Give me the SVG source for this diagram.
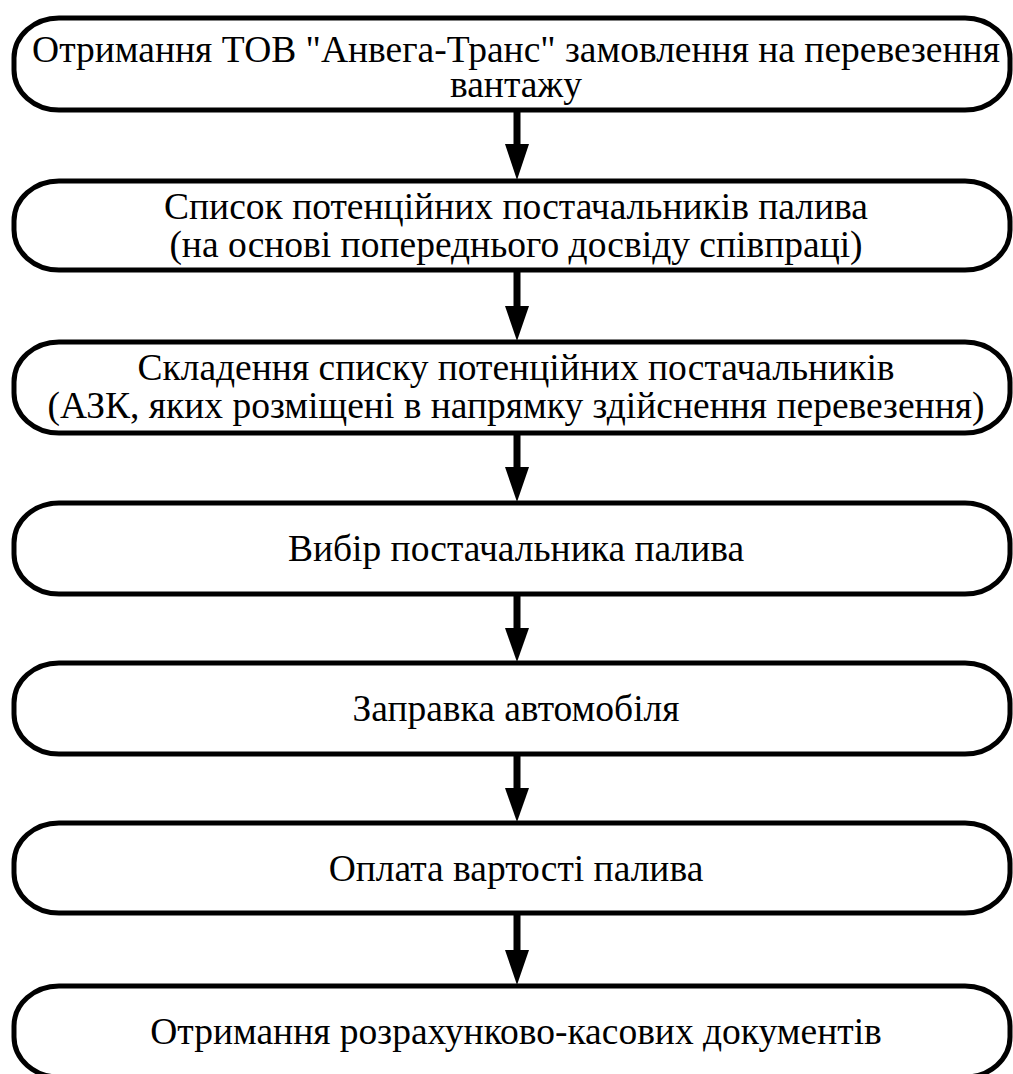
<svg xmlns="http://www.w3.org/2000/svg" width="1013" height="1074" viewBox="0 0 1013 1074">
  <style>
    .box { fill: #ffffff; stroke: #000000; stroke-width: 5; }
    .lbl { font-family: "Liberation Serif", "DejaVu Serif", serif; font-size: 37.5px; fill: #000000; text-anchor: middle; }
    .shaft { stroke: #000000; stroke-width: 7; fill: none; }
    .head { fill: #000000; stroke: none; }
  </style>
  <rect x="0" y="0" width="1013" height="1074" fill="#ffffff"/>

  <!-- process steps -->
  <g id="step1">
    <rect class="box" x="14" y="18" width="996" height="92" rx="45" ry="40"/>
    <text class="lbl" x="516" y="62">Отримання ТОВ "Анвега-Транс" замовлення на перевезення</text>
    <text class="lbl" x="516" y="97">вантажу</text>
  </g>
  <g id="step2">
    <rect class="box" x="14" y="181" width="996" height="89" rx="45" ry="40"/>
    <text class="lbl" x="516" y="219">Список потенційних постачальників палива</text>
    <text class="lbl" x="516" y="257">(на основі попереднього досвіду співпраці)</text>
  </g>
  <g id="step3">
    <rect class="box" x="14" y="342" width="996" height="91" rx="45" ry="40"/>
    <text class="lbl" x="516" y="380">Складення списку потенційних постачальників</text>
    <text class="lbl" x="516" y="418">(АЗК, яких розміщені в напрямку здійснення перевезення)</text>
  </g>
  <g id="step4">
    <rect class="box" x="14" y="503" width="996" height="91" rx="45" ry="40"/>
    <text class="lbl" x="516" y="561">Вибір постачальника палива</text>
  </g>
  <g id="step5">
    <rect class="box" x="14" y="663" width="996" height="91" rx="45" ry="40"/>
    <text class="lbl" x="516" y="721">Заправка автомобіля</text>
  </g>
  <g id="step6">
    <rect class="box" x="14" y="823" width="996" height="90" rx="45" ry="40"/>
    <text class="lbl" x="516" y="881">Оплата вартості палива</text>
  </g>
  <g id="step7">
    <rect class="box" x="14" y="986" width="996" height="91" rx="45" ry="40"/>
    <text class="lbl" x="516" y="1044">Отримання розрахунково-касових документів</text>
  </g>

  <!-- connectors: shaft plus filled head, tip on the next box's top edge -->
  <g id="connectors">
    <line class="shaft" x1="517" y1="110" x2="517" y2="146"/>
    <polygon class="head" points="505,144 529,144 517,180"/>
    <line class="shaft" x1="517" y1="270" x2="517" y2="308"/>
    <polygon class="head" points="505,306 529,306 517,341"/>
    <line class="shaft" x1="517" y1="433" x2="517" y2="469"/>
    <polygon class="head" points="505,467 529,467 517,502"/>
    <line class="shaft" x1="517" y1="594" x2="517" y2="630"/>
    <polygon class="head" points="505,628 529,628 517,662"/>
    <line class="shaft" x1="517" y1="754" x2="517" y2="790"/>
    <polygon class="head" points="505,788 529,788 517,822"/>
    <line class="shaft" x1="517" y1="913" x2="517" y2="952"/>
    <polygon class="head" points="505,950 529,950 517,985"/>
  </g>
</svg>
